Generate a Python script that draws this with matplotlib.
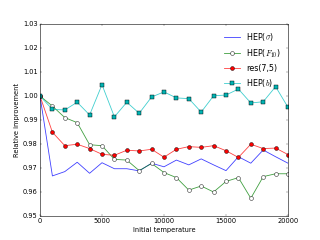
import numpy as np
import matplotlib
matplotlib.use("Agg")
import matplotlib.pyplot as plt

plt.style.use('classic')

# Data
temps = np.arange(0, 21000, 1000)

hep_sigma = [1.000, 0.9667, 0.9685, 0.9724, 0.9678, 0.9722, 0.9697, 0.9697,
             0.9688, 0.9720, 0.9705, 0.9733, 0.9713, 0.9738, 0.9713, 0.9689,
             0.9747, 0.9720, 0.9775, 0.9747, 0.9720]
hep_f10 = [1.000, 0.9958, 0.9910, 0.9889, 0.9797, 0.9793, 0.9736, 0.9733,
           0.9689, 0.9719, 0.9681, 0.9660, 0.9608, 0.9625, 0.9600, 0.9644,
           0.9660, 0.9574, 0.9664, 0.9676, 0.9676]
res75 = [1.000, 0.9849, 0.9793, 0.9799, 0.9781, 0.9757, 0.9753, 0.9774,
         0.9771, 0.9778, 0.9745, 0.9778, 0.9789, 0.9786, 0.9793, 0.9772,
         0.9744, 0.9799, 0.9781, 0.9783, 0.9756]
hep_b = [1.000, 0.9944, 0.9942, 0.9974, 0.9921, 1.0047, 0.9913, 0.9974,
         0.9928, 0.9996, 1.0017, 0.9992, 0.9989, 0.9933, 1.0001, 1.0004,
         1.0029, 0.9971, 0.9976, 1.0039, 0.9953]

fig = plt.figure(figsize=(8, 6), dpi=40)
ax = fig.add_subplot(111)

a = 0.75
ax.plot(temps, hep_sigma, '-', color=(0, 0, 1, a), lw=1.5, label=r'HEP($\sigma$)')
ax.plot(temps, hep_f10, '-o', color=(0, 0.5, 0, a), lw=1.5, ms=7,
        markerfacecolor='w', markeredgecolor='k', mew=0.8,
        label=r'HEP($F_{10}$)')
ax.plot(temps, res75, '-o', color=(1, 0, 0, a), lw=1.5, ms=7,
        markerfacecolor='r', markeredgecolor='k', mew=0.8,
        label='res(7,5)')
ax.plot(temps, hep_b, '-s', color=(0, 0.75, 0.75, a), lw=1.5, ms=7,
        markerfacecolor=(0, 0.7, 0.7), markeredgecolor='k', mew=0.8,
        label=r'HEP($b$)')

ax.set_xlim(0, 20000)
ax.set_ylim(0.95, 1.03)
ax.set_xticks([0, 5000, 10000, 15000, 20000])
ax.ticklabel_format(axis='y', useOffset=False)
ax.yaxis.set_major_formatter(plt.FormatStrFormatter('%.2f'))
ax.set_xlabel('Initial temperature')
ax.set_ylabel('Relative improvement')
ax.legend(loc='upper right', frameon=False, numpoints=1)

fig.savefig('out.png', dpi=40)
